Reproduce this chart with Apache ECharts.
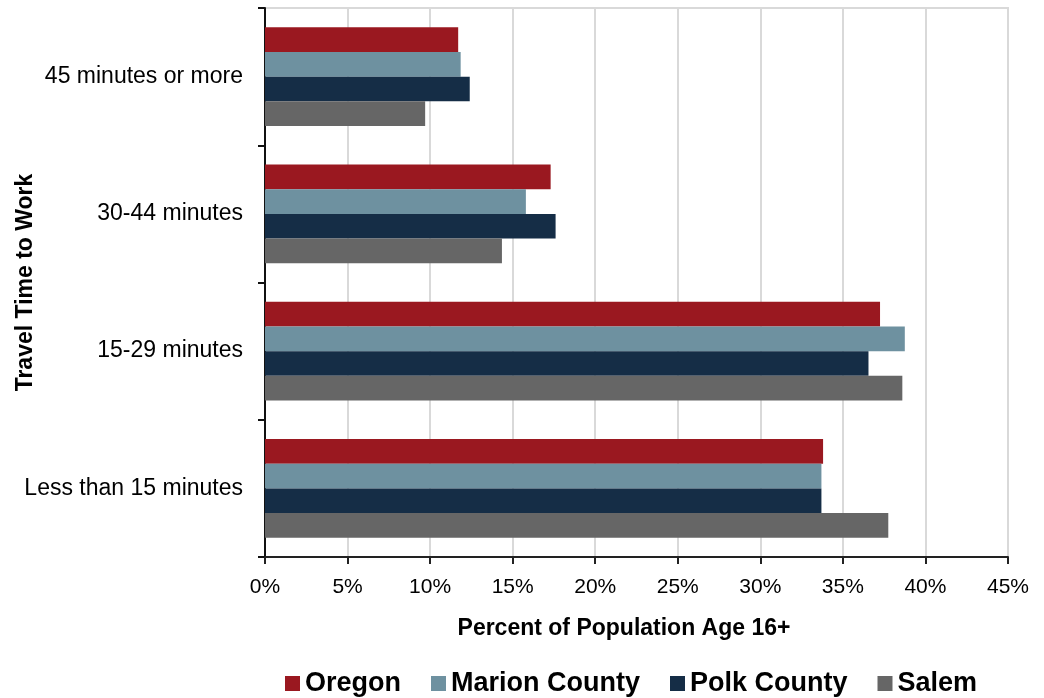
<!DOCTYPE html>
<html><head><meta charset="utf-8">
<script src="https://cdn.jsdelivr.net/npm/echarts@6/dist/echarts.min.js"></script>
<style>html,body{margin:0;padding:0;background:#fff}#c{width:1044px;height:698px}</style>
</head><body><div id="c"></div>
<script>
const categories = ['Less than 15 minutes', '15-29 minutes', '30-44 minutes', '45 minutes or more'];
const seriesNames = ['Oregon', 'Marion County', 'Polk County', 'Salem'];
const oregon = [33.8, 37.25, 17.3, 11.7];
const marion = [33.7, 38.75, 15.8, 11.85];
const polk   = [33.7, 36.55, 17.6, 12.4];
const salem  = [37.75, 38.6, 14.35, 9.7];
const colors = ['#9a1820', '#6e91a0', '#152d46', '#666666'];
const xTicks = [0, 45, 5];

const font = "'Liberation Sans', Arial, sans-serif";
const values = [oregon, marion, polk, salem];
const chart = echarts.init(document.getElementById('c'), null, {renderer: 'canvas'});
chart.setOption({
  animation: false,
  textStyle: {fontFamily: font},
  grid: {left: 265, right: 36, top: 8, bottom: 141, show: true, borderColor: '#d9d9d9', borderWidth: 2,
         containLabel: false, outerBoundsMode: 'none'},
  legend: {
    data: seriesNames, left: 280, top: 665, itemWidth: 15, itemHeight: 15, itemGap: 30,
    icon: 'rect',
    textStyle: {fontFamily: font, fontSize: 27, fontWeight: 'bold', color: '#000'}
  },
  xAxis: {
    type: 'value', min: xTicks[0], max: xTicks[1], interval: xTicks[2],
    name: 'Percent of Population Age 16+', nameLocation: 'middle', nameGap: 60, nameMoveOverlap: false,
    nameTextStyle: {fontFamily: font, fontSize: 23, fontWeight: 'bold', color: '#000', padding: [0, 25, 0, 0]},
    axisLine: {show: true, lineStyle: {color: '#222', width: 2}},
    axisTick: {show: true, length: 7, lineStyle: {color: '#222', width: 2}},
    axisLabel: {formatter: v => v + '%', fontSize: 21, color: '#000', margin: 20, fontFamily: font},
    splitLine: {show: true, lineStyle: {color: '#d9d9d9', width: 2}}
  },
  yAxis: {
    type: 'category', data: categories,
    name: 'Travel Time to Work', nameLocation: 'middle', nameGap: 228, nameRotate: 90, nameMoveOverlap: false,
    nameTextStyle: {fontFamily: font, fontSize: 23, fontWeight: 'bold', color: '#000'},
    axisLine: {show: true, lineStyle: {color: '#111', width: 2}},
    axisTick: {show: true, length: 7, lineStyle: {color: '#111', width: 2}},
    axisLabel: {fontSize: 23, color: '#000', margin: 22, fontFamily: font},
    splitLine: {show: false}
  },
  series: seriesNames.map((n, i) => ({
    name: n, type: 'bar', data: values[i],
    itemStyle: {color: colors[i]},
    barGap: '0%', barCategoryGap: '28%'
  }))
});
</script></body></html>
